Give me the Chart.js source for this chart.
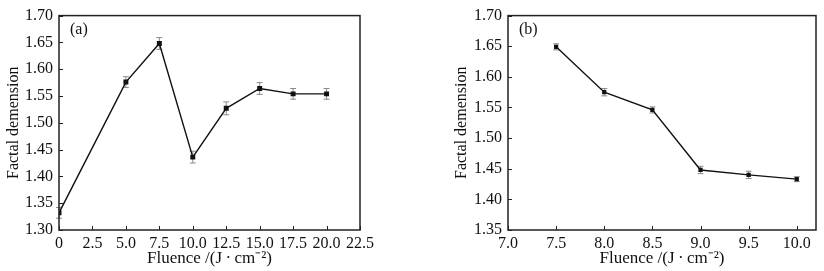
<!DOCTYPE html>
<html>
<head>
<meta charset="utf-8">
<script src="https://cdn.jsdelivr.net/npm/chart.js@4"></script>
<style>
    body { margin: 0; background: #fff; width: 824px; height: 271px; position: relative; overflow: hidden; }
    .caja { position: absolute; top: 0; height: 271px; }
    #cajaA { left: 0; width: 380px; }
    #cajaB { left: 448px; width: 376px; }
</style>
</head>
<body>
<div class="caja" id="cajaA"><canvas id="canvasA"></canvas></div>
<div class="caja" id="cajaB"><canvas id="canvasB"></canvas></div>
<script>
// Datos del panel (a)
const fluenciaA = [0, 5.0, 7.5, 10.0, 12.5, 15.0, 17.5, 20.0];
const fractalA = [1.332, 1.576, 1.648, 1.436, 1.527, 1.564, 1.554, 1.554];
const errorA = [0.010, 0.010, 0.011, 0.011, 0.012, 0.011, 0.010, 0.010];
const ticksXA = [0, 2.5, 5.0, 7.5, 10.0, 12.5, 15.0, 17.5, 20.0, 22.5];
const ticksYA = [1.30, 1.35, 1.40, 1.45, 1.50, 1.55, 1.60, 1.65, 1.70];

// Datos del panel (b)
const fluenciaB = [7.5, 8.0, 8.5, 9.0, 9.5, 10.0];
const fractalB = [1.649, 1.575, 1.546, 1.448, 1.440, 1.433];
const errorB = [0.005, 0.006, 0.005, 0.006, 0.006, 0.004];
const ticksXB = [7.0, 7.5, 8.0, 8.5, 9.0, 9.5, 10.0];
const ticksYB = [1.35, 1.40, 1.45, 1.50, 1.55, 1.60, 1.65, 1.70];

const fuente = 'Liberation Serif';
const colorEje = '#222';

// Barras de error, marco y marcas hacia dentro
const pluginMarco = {
    id: 'marco',
    beforeDatasetsDraw(chart) {
        const ctx = chart.ctx;
        const xs = chart.scales.x, ys = chart.scales.y;
        const err = chart.options.plugins.marco.errores;
        const datos = chart.data.datasets[0].data;
        ctx.save();
        ctx.strokeStyle = '#8a8a8a';
        ctx.lineWidth = 1;
        datos.forEach((p, i) => {
            const px = xs.getPixelForValue(p.x);
            const y1 = ys.getPixelForValue(p.y + err[i]);
            const y2 = ys.getPixelForValue(p.y - err[i]);
            ctx.beginPath();
            ctx.moveTo(px, y1); ctx.lineTo(px, y2);
            ctx.moveTo(px - 3, y1); ctx.lineTo(px + 3, y1);
            ctx.moveTo(px - 3, y2); ctx.lineTo(px + 3, y2);
            ctx.stroke();
        });
        ctx.restore();
    },
    afterDraw(chart) {
        const ctx = chart.ctx;
        const a = chart.chartArea;
        const xs = chart.scales.x, ys = chart.scales.y;
        ctx.save();
        ctx.strokeStyle = colorEje;
        ctx.lineWidth = 1.5;
        ctx.strokeRect(a.left, a.top, a.right - a.left, a.bottom - a.top);
        ctx.lineWidth = 1;
        ctx.beginPath();
        xs.ticks.forEach(t => {
            const px = Math.round(xs.getPixelForValue(t.value)) + 0.5;
            ctx.moveTo(px, a.bottom); ctx.lineTo(px, a.bottom - 4);
        });
        ys.ticks.forEach(t => {
            const py = Math.round(ys.getPixelForValue(t.value)) + 0.5;
            ctx.moveTo(a.left, py); ctx.lineTo(a.left + 4, py);
        });
        ctx.stroke();
        // etiqueta del panel
        ctx.fillStyle = '#111';
        ctx.font = '16px "' + fuente + '"';
        ctx.textBaseline = 'middle';
        ctx.fillText(chart.options.plugins.marco.etiqueta, a.left + 11, a.top + 14);
        ctx.restore();
    }
};

function crearGrafico(idCanvas, xs, ys, errores, ticksX, ticksY, minX, maxX, minY, maxY, etiqueta, formatoX, radio, anchoY, padDer) {
    const ctx = document.getElementById(idCanvas).getContext('2d');
    return new Chart(ctx, {
        type: 'scatter',
        data: {
            datasets: [{
                data: xs.map((x, i) => ({ x: x, y: ys[i] })),
                showLine: true,
                borderColor: '#111',
                borderWidth: 1.4,
                backgroundColor: '#111',
                pointStyle: 'rect',
                pointRadius: radio,
                pointBorderWidth: 0,
                tension: 0
            }]
        },
        options: {
            responsive: true,
            maintainAspectRatio: false,
            animation: false,
            events: [],
            layout: { autoPadding: false, padding: { top: 7, right: padDer, bottom: 0, left: 0 } },
            plugins: {
                legend: { display: false },
                tooltip: { enabled: false },
                marco: { errores: errores, etiqueta: etiqueta }
            },
            scales: {
                x: {
                    type: 'linear',
                    min: minX, max: maxX,
                    afterBuildTicks: s => { s.ticks = ticksX.map(v => ({ value: v })); },
                    afterFit: s => { s.height = 41; },
                    grid: { display: false, drawTicks: false },
                    border: { display: false },
                    ticks: {
                        color: '#111', padding: 4,
                        font: { family: fuente, size: 16 },
                        maxRotation: 0, autoSkip: false,
                        callback: formatoX
                    },
                    title: {
                        display: true,
                        text: 'Fluence /(J\u2009\u00B7\u2009cm\u207B\u00B2)',
                        color: '#111',
                        font: { family: fuente, size: 17 },
                        padding: { top: 0, bottom: 2 }
                    }
                },
                y: {
                    type: 'linear',
                    min: minY, max: maxY,
                    afterBuildTicks: s => { s.ticks = ticksY.map(v => ({ value: v })); },
                    afterFit: s => { s.width = anchoY; },
                    grid: { display: false, drawTicks: false },
                    border: { display: false },
                    ticks: {
                        color: '#111', padding: 6,
                        font: { family: fuente, size: 16 },
                        autoSkip: false,
                        callback: v => v.toFixed(2)
                    },
                    title: {
                        display: true,
                        text: 'Factal demension',
                        color: '#111',
                        font: { family: fuente, size: 16 },
                        padding: { top: 4, bottom: 0 }
                    }
                }
            }
        },
        plugins: [pluginMarco]
    });
}

window.onload = function () {
    crearGrafico('canvasA', fluenciaA, fractalA, errorA, ticksXA, ticksYA, 0, 22.5, 1.30, 1.70, '(a)',
        v => v === 0 ? '0' : v.toFixed(1), 3.5, 59, 20);
    crearGrafico('canvasB', fluenciaB, fractalB, errorB, ticksXB, ticksYB, 7.0, 10.2, 1.35, 1.70, '(b)',
        v => v.toFixed(1), 3, 60, 8);
};
</script>
</body>
</html>
